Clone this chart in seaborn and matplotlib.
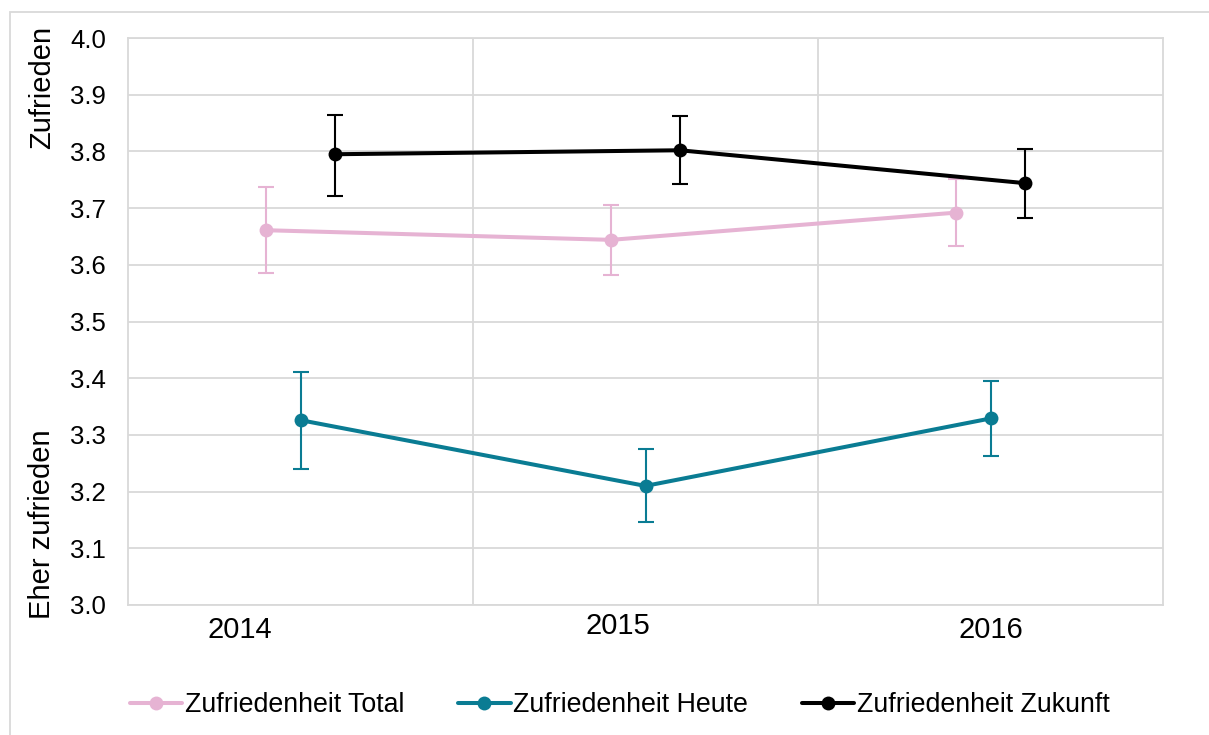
import numpy as np
import pandas as pd
import matplotlib
matplotlib.use('Agg')
import matplotlib.pyplot as plt
import matplotlib.transforms as mtrans
from matplotlib.patches import Rectangle
from matplotlib.lines import Line2D
import seaborn as sns

# ---- data ----
years = ['2014', '2015', '2016']
series = ['Zufriedenheit Total', 'Zufriedenheit Heute', 'Zufriedenheit Zukunft']

total = [3.661, 3.644, 3.692]
total_lo = [3.585, 3.582, 3.633]
total_hi = [3.737, 3.705, 3.751]

heute = [3.326, 3.210, 3.329]
heute_lo = [3.240, 3.146, 3.263]
heute_hi = [3.411, 3.275, 3.395]

zukunft = [3.795, 3.802, 3.744]
zukunft_lo = [3.722, 3.742, 3.683]
zukunft_hi = [3.865, 3.863, 3.804]

yticks = [3.0, 3.1, 3.2, 3.3, 3.4, 3.5, 3.6, 3.7, 3.8, 3.9, 4.0]
ylabel_top = 'Zufrieden'
ylabel_bottom = 'Eher zufrieden'

colors = ['#E6B3D3', '#0A7C93', '#000000']
offsets = [-0.1, 0.0, 0.1]

sns.set_theme(style='white')
plt.rcParams['font.family'] = ['Liberation Sans', 'DejaVu Sans']
plt.rcParams['text.color'] = '#000000'

rows = []
for s, vals, lo, hi, off in zip(series, [total, heute, zukunft],
                                [total_lo, heute_lo, zukunft_lo],
                                [total_hi, heute_hi, zukunft_hi], offsets):
    for i, y in enumerate(years):
        rows.append(dict(series=s, year=y, pos=i + off, value=vals[i],
                         lo=lo[i], hi=hi[i]))
df = pd.DataFrame(rows)

W, H = 1209, 735
fig = plt.figure(figsize=(W / 100, H / 100), dpi=100)
ax = fig.add_axes([128 / W, 1 - 605 / H, (1163 - 128) / W, (605 - 38) / H])

LW = 2.9
MS = 10
sns.lineplot(data=df, x='pos', y='value', hue='series', hue_order=series,
             palette=colors, marker='o', markersize=MS, markeredgewidth=0,
             linewidth=LW, ax=ax, legend=False, zorder=3)

for s, c in zip(series, colors):
    d = df[df.series == s]
    ax.errorbar(d.pos, d.value, yerr=[d.value - d.lo, d.hi - d.value],
                fmt='none', ecolor=c, elinewidth=1.5, capsize=5.8,
                capthick=1.5, zorder=2)

ax.set_xlim(-0.5, 2.5)
ax.set_ylim(3.0, 4.0)
ax.set_yticks(yticks)
ax.set_yticklabels([f'{v:.1f}' for v in yticks], fontsize=18.5)
ax.set_xticks([-0.176, 0.919, 2.0])
ax.set_xticklabels(years, fontsize=21)
ax.set_xticks([0.5, 1.5], minor=True)
ax.tick_params(axis='y', length=0, pad=16, colors='#000000')
ax.tick_params(axis='x', which='both', length=0, pad=8, colors='#000000')
# nudge 2015 label up slightly
lbl = ax.get_xticklabels()[1]
lbl.set_transform(lbl.get_transform() + mtrans.ScaledTranslation(0, 4 / 100, fig.dpi_scale_trans))

ax.yaxis.grid(True, color='#d9d9d9', lw=1.3)
ax.xaxis.grid(True, which='minor', color='#d9d9d9', lw=1.3)
ax.set_axisbelow(True)
for sp in ax.spines.values():
    sp.set_color('#d9d9d9')
    sp.set_linewidth(1.3)
ax.set_xlabel('')
ax.set_ylabel('')

fig.text(42 / W, 1 - 26 / H, ylabel_top, rotation=90, ha='center', va='top', fontsize=21)
fig.text(42 / W, 1 - 619 / H, ylabel_bottom, rotation=90, ha='center', va='bottom', fontsize=21)

handles = [Line2D([], [], color=c, lw=LW, marker='o', markersize=MS, markeredgewidth=0)
           for c in colors]
fig.legend(handles, series, loc='center', bbox_to_anchor=(620 / W, 1 - 705 / H),
           ncol=3, frameon=False, fontsize=19.3, handlelength=1.95,
           handletextpad=0.11, columnspacing=2.0)

fig.add_artist(Rectangle((10 / W, -0.1), 1.2, (H - 12) / H + 0.1,
                         transform=fig.transFigure, fill=False,
                         ec='#d9d9d9', lw=1.3))

fig.savefig('out.png', dpi=100)
